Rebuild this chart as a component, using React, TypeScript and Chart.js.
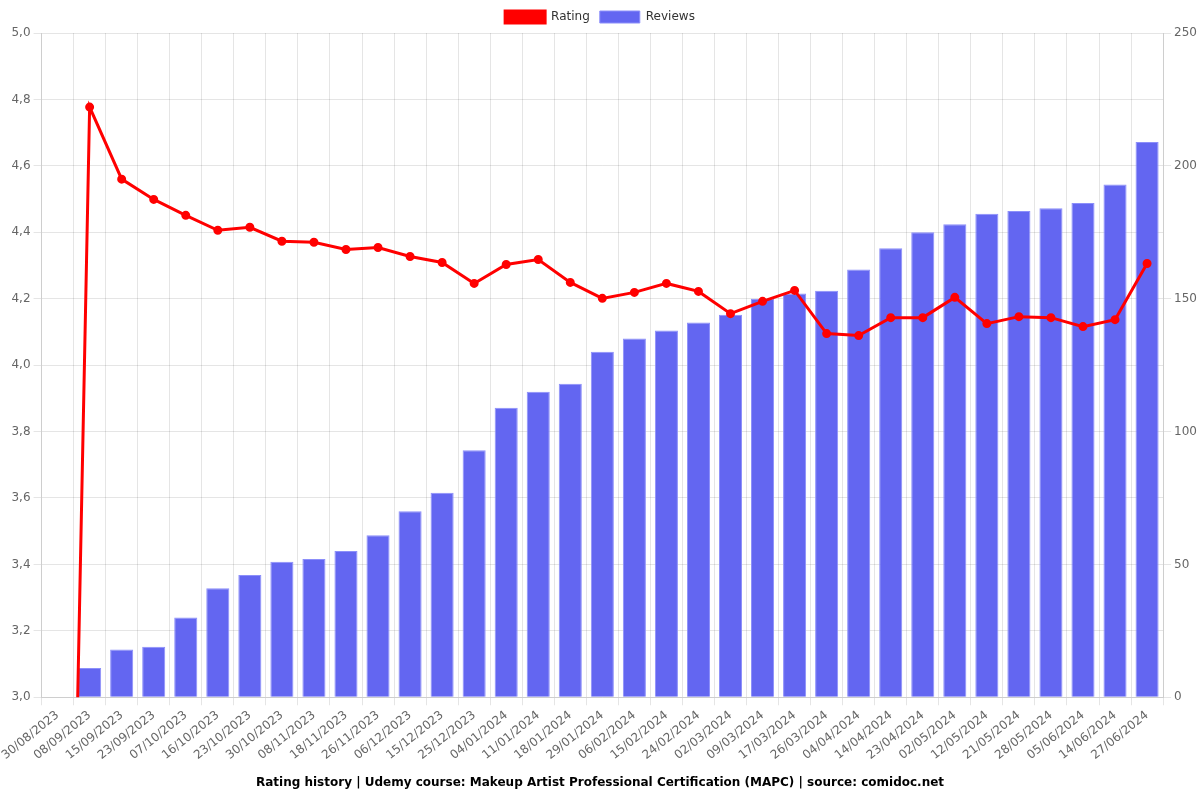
import React, { useEffect, useRef } from "react";
import { Chart, registerables } from "chart.js";

Chart.register(...registerables);

const categories = [
  "30/08/2023", "08/09/2023", "15/09/2023", "23/09/2023", "07/10/2023", "16/10/2023",
  "23/10/2023", "30/10/2023", "08/11/2023", "18/11/2023", "26/11/2023", "06/12/2023",
  "15/12/2023", "25/12/2023", "04/01/2024", "11/01/2024", "18/01/2024", "29/01/2024",
  "06/02/2024", "15/02/2024", "24/02/2024", "02/03/2024", "09/03/2024", "17/03/2024",
  "26/03/2024", "04/04/2024", "14/04/2024", "23/04/2024", "02/05/2024", "12/05/2024",
  "21/05/2024", "28/05/2024", "05/06/2024", "14/06/2024", "27/06/2024",
];

const ratingValues = [
  0, 4.777, 4.56, 4.499, 4.451, 4.406, 4.415, 4.373, 4.37, 4.348, 4.354, 4.327,
  4.309, 4.246, 4.303, 4.318, 4.249, 4.201, 4.219, 4.246, 4.222, 4.155, 4.192, 4.225,
  4.095, 4.089, 4.143, 4.143, 4.204, 4.125, 4.146, 4.143, 4.116, 4.137, 4.306,
];

const reviewValues = [
  0, 11, 18, 19, 30, 41, 46, 51, 52, 55, 61, 70,
  77, 93, 109, 115, 118, 130, 135, 138, 141, 144, 150, 152,
  153, 161, 169, 175, 178, 182, 183, 184, 186, 193, 209,
];

const titleText =
  "Rating history | Udemy course: Makeup Artist Professional Certification (MAPC) | source: comidoc.net";

export default function App() {
  const ref = useRef<HTMLCanvasElement | null>(null);

  useEffect(() => {
    document.body.style.margin = "0";
    if (!ref.current) return;
    Chart.defaults.font.family = "'DejaVu Sans', sans-serif";
    Chart.defaults.color = "#666";
    const chart = new Chart(ref.current, {
      type: "bar",
      data: {
        labels: categories,
        datasets: [
          {
            type: "line",
            label: "Rating",
            data: ratingValues,
            borderColor: "#ff0000",
            backgroundColor: "#ff0000",
            borderWidth: 3,
            pointRadius: 3,
            pointHoverRadius: 3,
            tension: 0,
            yAxisID: "y",
          },
          {
            type: "bar",
            label: "Reviews",
            data: reviewValues,
            backgroundColor: "rgba(99, 102, 241, 1)",
            borderColor: "rgba(140, 143, 250, 1)",
            borderWidth: 1,
            yAxisID: "y1",
          },
        ],
      },
      options: {
        responsive: false,
        animation: false,
        maintainAspectRatio: false,
        layout: { padding: { left: 0, right: 0, top: 1, bottom: 0 } },
        plugins: {
          legend: {
            position: "top",
            labels: { font: { size: 12 }, color: "#333" },
          },
          title: {
            display: true,
            text: titleText,
            position: "bottom",
            color: "#000",
            font: { size: 12, weight: "bold" },
          },
          tooltip: { enabled: false },
        },
        scales: {
          x: {
            ticks: { autoSkip: false, font: { size: 12 } },
          },
          y: {
            position: "left",
            min: 3,
            max: 5,
            ticks: {
              stepSize: 0.2,
              font: { size: 12 },
              callback: (v: any) => Number(v).toFixed(1).replace(".", ","),
            },
          },
          y1: {
            position: "right",
            min: 0,
            max: 250,
            ticks: { stepSize: 50, font: { size: 12 } },
            grid: { drawOnChartArea: false },
          },
        },
      },
    });
    return () => chart.destroy();
  }, []);

  return (
    <div style={{ width: 1200, height: 800 }}>
      <canvas ref={ref} width={1200} height={800} style={{ width: 1200, height: 800 }} />
    </div>
  );
}
